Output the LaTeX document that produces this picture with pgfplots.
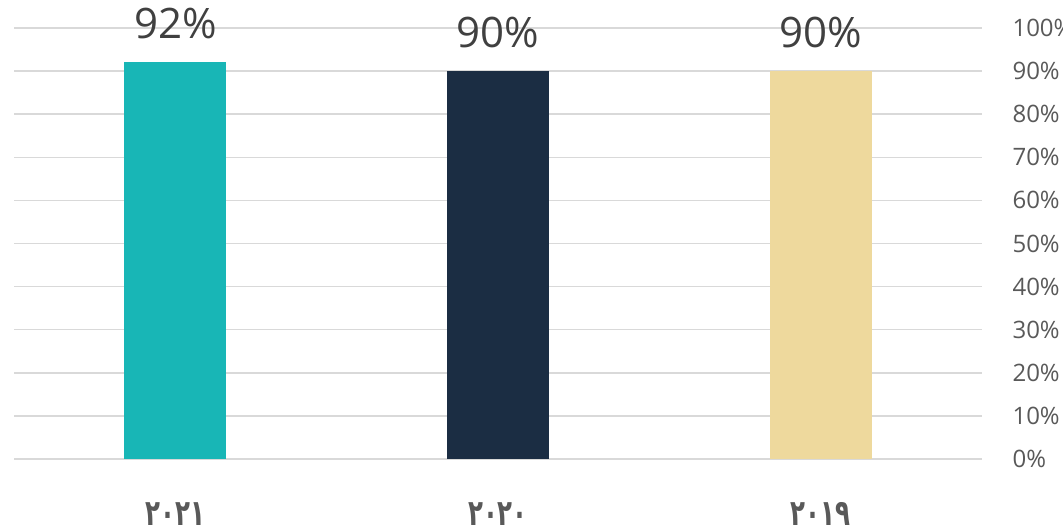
\documentclass[border=0pt]{standalone}
\usepackage{pgfplots}
\pgfplotsset{compat=1.18}
\usepackage{fontspec}
\usepackage{graphicx}
\setmainfont{Open Sans}
\newfontfamily\arabicfont[Script=Arabic]{DejaVu Sans}
\definecolor{cteal}{HTML}{18B6B6}
\definecolor{cnavy}{HTML}{1B2D43}
\definecolor{cbeige}{HTML}{EED99D}
\definecolor{cgrid}{HTML}{D9D9D9}
\definecolor{ctick}{HTML}{595959}
\definecolor{clab}{HTML}{404040}
\newcommand{\ar}[1]{\scalebox{0.68}[1]{\arabicfont\bfseries #1}}
\begin{document}
\begin{tikzpicture}[x=1pt,y=1pt]
\useasboundingbox (0,0) rectangle (1063,529);
\clip (0,0) rectangle (1063,529);
\begin{axis}[
  at={(14pt,70pt)}, anchor=south west,
  scale only axis, width=968pt, height=431pt,
  xmin=-0.5, xmax=2.5, ymin=0, ymax=100,
  axis line style={draw=none},
  ytick={0,10,...,100},
  yticklabel={\pgfmathprintnumber{\tick}\%},
  yticklabel pos=right,
  yticklabel style={anchor=west, xshift=27pt, font=\fontsize{24}{28}\selectfont, text=ctick},
  /pgf/number format/assume math mode=true,
  ymajorgrids, grid style={cgrid, line width=1.5pt},
  major tick length=0pt,
  xtick={0,1,2},
  xticklabels={{\ar{٢٠٢١}},{\ar{٢٠٢٠}},{\ar{٢٠١٩}}},
  xticklabel style={anchor=north, yshift=-40pt, font=\fontsize{36}{42}\selectfont, text=ctick},
  ybar, bar width=102pt, bar shift=0pt,
  nodes near coords={\pgfmathprintnumber{\pgfplotspointmeta}\%},
  nodes near coords style={anchor=south, yshift=20pt, font=\fontsize{42}{48}\selectfont, text=clab, /pgf/number format/assume math mode=true},
]
\addplot[fill=cteal, draw=none] coordinates {(0,92)};
\addplot[fill=cnavy, draw=none] coordinates {(1,90)};
\addplot[fill=cbeige, draw=none] coordinates {(2,90)};
\end{axis}
\end{tikzpicture}
\end{document}
